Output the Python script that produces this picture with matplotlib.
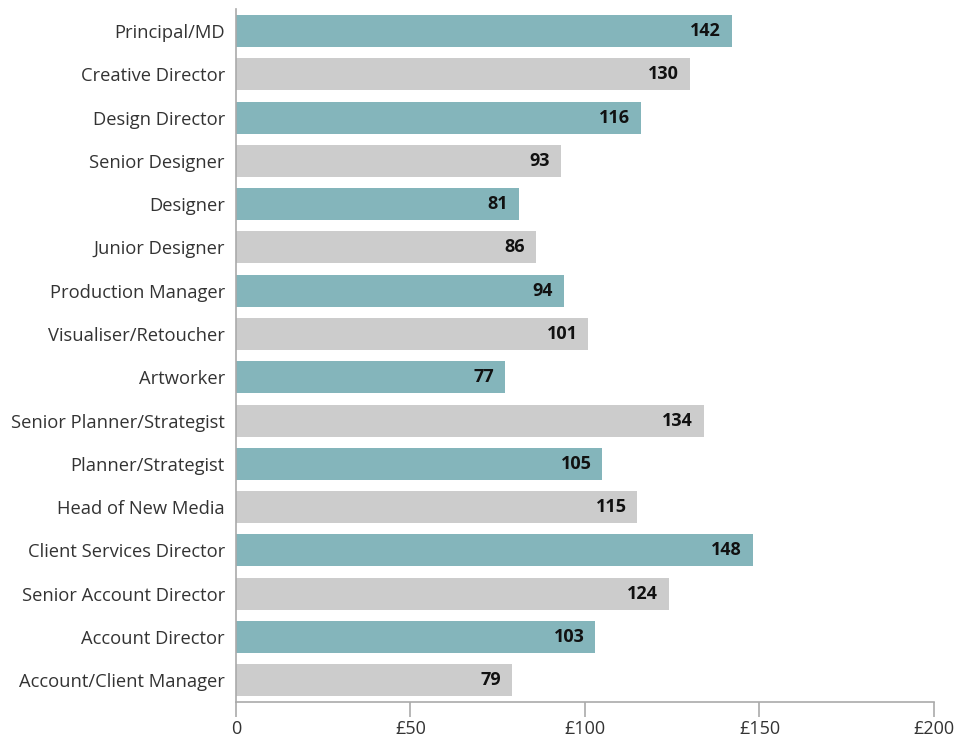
import matplotlib
matplotlib.use('Agg')
import matplotlib.pyplot as plt

roles = ['Principal/MD', 'Creative Director', 'Design Director', 'Senior Designer',
         'Designer', 'Junior Designer', 'Production Manager', 'Visualiser/Retoucher',
         'Artworker', 'Senior Planner/Strategist', 'Planner/Strategist',
         'Head of New Media', 'Client Services Director', 'Senior Account Director',
         'Account Director', 'Account/Client Manager']
rates = [142, 130, 116, 93, 81, 86, 94, 101, 77, 134, 105, 115, 148, 124, 103, 79]
xticks = [0, 50, 100, 150, 200]
xlabels = ['0', '£50', '£100', '£150', '£200']

teal = '#84b5bb'
grey = '#cccccc'

plt.rcParams['font.family'] = ['Open Sans', 'DejaVu Sans']

fig = plt.figure(figsize=(9.62, 7.38), dpi=100)
ax = fig.add_axes([0.2453, 0.0488, 0.7256, 0.9385])

ypos = list(range(len(roles)))
colors = [teal if i % 2 == 0 else grey for i in ypos]
ax.barh(ypos, rates, height=0.74, color=colors)

# value labels sit inside the end of each bar
for y, v in zip(ypos, rates):
    ax.text(v - 3.1, y, str(v), ha='right', va='center', fontsize=13,
            fontweight='bold', color='#111111')

ax.set_ylim(len(roles) - 0.5, -0.5)
ax.set_xlim(0, 200)
ax.set_yticks(ypos)
ax.set_yticklabels(roles, fontsize=13.2, color='#333333')
ax.set_xticks(xticks)
ax.set_xticklabels(xlabels, fontsize=13, color='#333333')

for s in ['top', 'right']:
    ax.spines[s].set_visible(False)
for s in ['left', 'bottom']:
    ax.spines[s].set_color('#aaaaaa')
    ax.spines[s].set_linewidth(1.2)

ax.tick_params(axis='y', length=0, pad=8)
ax.tick_params(axis='x', length=11, width=1.2, color='#aaaaaa', pad=2)

fig.savefig('out.png', dpi=100)
